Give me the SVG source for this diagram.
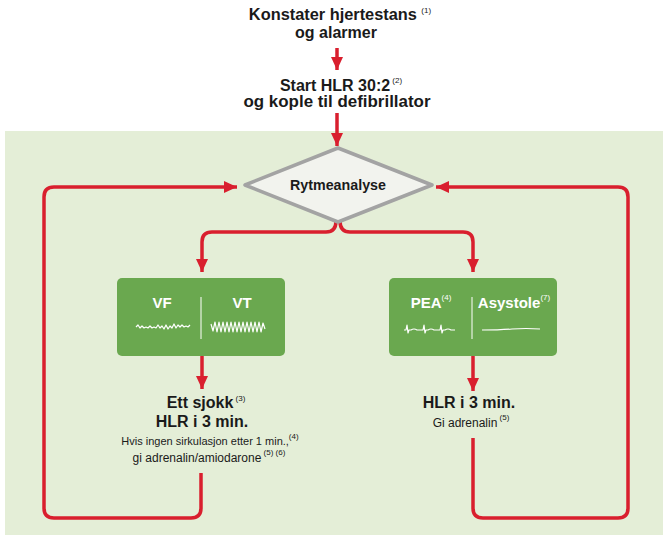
<svg xmlns="http://www.w3.org/2000/svg" width="663" height="539" viewBox="0 0 663 539">
  <style>
    .t { font-family: "Liberation Sans", Arial, sans-serif; fill: #1a1a1a; text-anchor: middle; }
    .b { font-weight: bold; font-size: 16px; }
    .s { font-size: 12px; }
    .sup { font-size: 8px; font-weight: normal; }
    .w { fill: #ffffff; font-weight: bold; font-size: 15px; }
    .con { fill: none; stroke: #d91f2e; stroke-width: 3.5; stroke-linejoin: round; }
    .box { fill: #6aa84f; }
    .wave { fill: none; stroke: #ffffff; stroke-width: 1.2; stroke-linejoin: round; }
  </style>
  <defs>
    <marker id="ah" markerUnits="userSpaceOnUse" markerWidth="14" markerHeight="14" refX="13" refY="6" orient="auto">
      <path d="M0,0 L13,6 L0,12 z" fill="#d91f2e"/>
    </marker>
  </defs>

  <rect x="0" y="0" width="663" height="539" fill="#ffffff"/>
  <!-- light green working area -->
  <rect x="5" y="131" width="660" height="404" fill="#e4eed7"/>

  <!-- connectors -->
  <g id="connectors">
    <path class="con" d="M337,48 L337,70" marker-end="url(#ah)"/>
    <path class="con" d="M337,113 L337,146" marker-end="url(#ah)"/>
    <path class="con" d="M336,221 Q336,232 326,232 L212,232 Q202,232 202,242 L202,272" marker-end="url(#ah)"/>
    <path class="con" d="M340,221 Q340,232 350,232 L463,232 Q473,232 473,242 L473,272" marker-end="url(#ah)"/>
    <path class="con" d="M202,356 L202,389" marker-end="url(#ah)"/>
    <path class="con" d="M473,356 L473,391" marker-end="url(#ah)"/>
    <path class="con" d="M201,473 L201,508 Q201,518 191,518 L54,518 Q44,518 44,508 L44,197 Q44,187 54,187 L237,187" marker-end="url(#ah)"/>
    <path class="con" d="M473,438 L473,508 Q473,518 483,518 L618,518 Q628,518 628,508 L628,197 Q628,187 618,187 L436,187" marker-end="url(#ah)"/>
  </g>

  <!-- start -->
  <g id="n-start">
    <text class="t b" x="340" y="20"><tspan textLength="168" lengthAdjust="spacingAndGlyphs">Konstater hjertestans</tspan> <tspan class="sup" dy="-7">(1)</tspan></text>
    <text class="t b" x="336" y="38">og alarmer</text>
  </g>

  <g id="n-hlr">
    <text class="t b" x="341" y="91">Start HLR 30:2<tspan class="sup" dy="-8"> (2)</tspan></text>
    <text class="t b" x="337" y="107" textLength="187" lengthAdjust="spacingAndGlyphs">og kople til defibrillator</text>
  </g>

  <!-- rhythm analysis decision -->
  <g id="n-rytme">
    <polygon points="338,148 432,185 338,222 245,185" fill="#f2f3ee" stroke="#a3a3a3" stroke-width="3.5" stroke-linejoin="round"/>
    <text class="t" x="338" y="190" font-weight="bold" font-size="15" textLength="96" lengthAdjust="spacingAndGlyphs">Rytmeanalyse</text>
  </g>

  <!-- shockable rhythms -->
  <g id="n-vfvt">
    <rect class="box" x="117" y="278" width="168" height="78" rx="5"/>
    <line x1="201" y1="297" x2="201" y2="339" stroke="#ffffff" stroke-width="1"/>
    <text class="t w" x="162" y="308">VF</text>
    <text class="t w" x="242" y="308">VT</text>
    <path class="wave" d="M136,327 l2,-2 l2,3 l2,-2 l2,2 l2,-1 l2,1 l2,-2 l2,2 l2,-1 l2,1 l2,-3 l2,3 l2,-2 l2,3 l2,-4 l2,4 l2,-3 l2,2 l2,-4 l2,4 l2,-3 l2,2 l2,-2 l2,2 l2,-1 l2,1 l2,-2"/>
    <path class="wave" d="M211,324 l2,7 l2,-9 l2,10 l2,-10 l2,10 l2,-10 l2,10 l2,-10 l2,10 l2,-10 l2,10 l2,-10 l2,10 l2,-10 l2,10 l2,-10 l2,10 l2,-10 l2,10 l2,-10 l2,10 l2,-10 l2,10 l2,-10 l2,10 l2,-9 l2,6"/>
  </g>

  <!-- non-shockable rhythms -->
  <g id="n-peaasy">
    <rect class="box" x="389" y="278" width="168" height="78" rx="5"/>
    <line x1="472" y1="297" x2="472" y2="339" stroke="#ffffff" stroke-width="1"/>
    <text class="t w" x="431" y="308">PEA<tspan class="sup" dy="-8">(4)</tspan></text>
    <text class="t w" x="514" y="308">Asystole<tspan class="sup" dy="-8">(7)</tspan></text>
    <path class="wave" d="M404,330 l2,0 l1,-5 l1,8 l1,-3 l2,0 q3,-2 6,0 l6,0 l1,-5 l1,8 l1,-3 l2,0 q3,-2 6,0 l6,0 l1,-5 l1,8 l1,-3 l2,0 q3,-2 6,0 l4,0"/>
    <path class="wave" d="M482,330 Q500,330 512,329 Q526,328 540,329"/>
  </g>

  <!-- shock branch actions -->
  <g id="n-sjokk">
    <text class="t b" x="206" y="408">Ett sjokk<tspan class="sup" dy="-7"> (3)</tspan></text>
    <text class="t b" x="202" y="427">HLR i 3 min.</text>
    <text class="t" x="210" y="445" font-size="11">Hvis ingen sirkulasjon etter 1 min.,<tspan class="sup" dy="-6">(4)</tspan></text>
    <text class="t s" x="209" y="462">gi adrenalin/amiodarone<tspan class="sup" dy="-7"> (5) (6)</tspan></text>
  </g>

  <!-- non-shock branch actions -->
  <g id="n-adrenalin">
    <text class="t b" x="469" y="408">HLR i 3 min.</text>
    <text class="t s" x="471" y="427">Gi adrenalin<tspan class="sup" dy="-7"> (5)</tspan></text>
  </g>
</svg>
